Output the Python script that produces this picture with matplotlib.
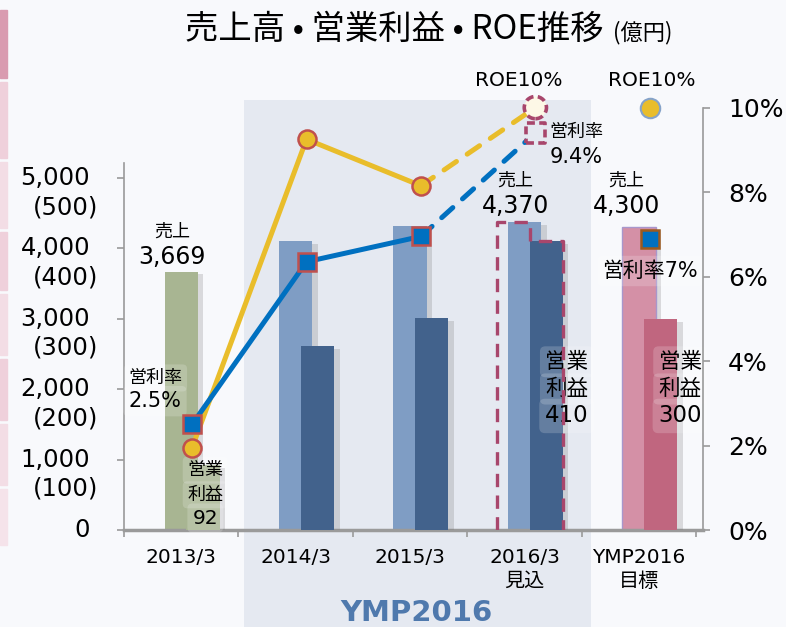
import matplotlib
matplotlib.use('Agg')
import matplotlib.pyplot as plt
import matplotlib.patheffects as pe
from matplotlib.patches import Rectangle
from matplotlib.transforms import blended_transform_factory
import numpy as np

plt.rcParams['font.family'] = ['DejaVu Sans', 'Noto Sans CJK JP']

# data (億円, %)
categories = ['2013/3', '2014/3', '2015/3', '2016/3\n見込', 'YMP2016\n目標']
sales = [3669, 4105, 4320, 4370, 4300]
profit = [92, 261, 301, 410, 300]
margin = [2.5, 6.35, 6.95, 9.4, 6.9]
roe = [1.95, 9.25, 8.15, 10.0, 10.0]
left_ticks = [0, 1000, 2000, 3000, 4000, 5000]
right_ticks = [0, 2, 4, 6, 8, 10]

sales_colors = ['#a8b592', '#7f9dc4', '#7f9dc4', '#7f9dc4', '#d490a6']
profit_colors = ['#a8b592', '#42628c', '#42628c', '#42628c', '#c0667f']
yellow = '#e9bd2b'
blue = '#0070c0'
maroon = '#a8466c'
grey = '#9a9a9a'

fig = plt.figure(figsize=(7.86, 6.27), dpi=100, facecolor='#f8f9fc')
ax = fig.add_axes([124/786, 1-530/627, 579/786, 422.4/627])
ax.set_facecolor('none')
ax2 = ax.twinx()

x = np.arange(len(categories))
w = 0.29      # bar width
pofs = 0.19   # profit bar offset
lofs = 0.095  # line point offset

# pink strip on the left edge
strip = [(10, 78, '#d99bb0'), (82, 158, '#efd0db'), (162, 228, '#f3dde5'),
         (232, 290, '#efd0db'), (294, 355, '#f3dde5'), (359, 420, '#efd0db'),
         (424, 485, '#f3dde5'), (489, 545, '#f5e3ea')]
for y0, y1, c in strip:
    fig.add_artist(Rectangle((0, 1-y1/627), 7/786, (y1-y0)/627,
                             transform=fig.transFigure, color=c, zorder=-5))

# YMP2016 band
band = Rectangle((0.55, 0), 3.03, 1-100/627,
                 transform=blended_transform_factory(ax.transData, fig.transFigure),
                 facecolor='#e5e9f1', edgecolor='none', zorder=0, clip_on=False)
ax.add_artist(band)
fig.text(416/786, 1-613/627, 'YMP2016', ha='center', va='center',
         fontsize=21, fontweight='bold', color='#4f79ad')

# bars
shadow = [pe.SimplePatchShadow(offset=(4, -2), shadow_rgbFace='#7d7d7d', alpha=0.25), pe.Normal()]
b1 = ax.bar(x, sales, w, color=sales_colors, zorder=2)
b2 = ax.bar(x + pofs, np.array(profit) * 10, w, color=profit_colors, zorder=3)
for r in list(b1) + list(b2):
    r.set_path_effects(shadow)
b1[4].set_edgecolor('#a897cc')
b1[4].set_linewidth(1)

# dashed outline for the forecast year
xc = x[3]
ol = [xc - w/2 - lofs, xc + pofs - w/2, xc + pofs + w/2]
ax.plot([ol[0], ol[0], ol[1], ol[1], ol[2], ol[2]],
        [0, sales[3], sales[3], profit[3]*10, profit[3]*10, 0],
        color=maroon, lw=2.4, ls=(0, (4, 2.5)), zorder=4)

# lines
xl = x + lofs
ax2.plot(xl[:3], roe[:3], color=yellow, lw=3.6, solid_capstyle='round', zorder=3)
ax2.plot(xl[2:4], roe[2:4], color=yellow, lw=3.6, ls=(0, (3, 2.6)), dash_capstyle='round', zorder=3)
ax2.plot(xl[:3], margin[:3], color=blue, lw=3.6, solid_capstyle='round', zorder=4)
ax2.plot(xl[2:4], margin[2:4], color=blue, lw=3.6, ls=(0, (3, 2.6)), dash_capstyle='round', zorder=4)
ax2.plot(xl[:3], roe[:3], 'o', ms=13, mfc=yellow, mec='#c0504d', mew=1.8, zorder=5)
ax2.plot(xl[:3], margin[:3], 's', ms=13.5, mfc=blue, mec='#c0504d', mew=1.8, zorder=6)
ax2.scatter([xl[3]], [roe[3]], s=16**2, marker='o', facecolor='#fdf8e6', edgecolor=maroon,
            linewidths=2.6, linestyle=(0, (2.2, 1.2)), zorder=6, clip_on=False)
ax2.scatter([xl[3]], [margin[3]], s=14**2, marker='s', facecolor='#e5e9f1', edgecolor=maroon,
            linewidths=2.6, linestyle=(0, (2.2, 1.2)), zorder=6)
ax2.plot([xl[4]], [roe[4]], 'o', ms=14, mfc=yellow, mec='#86a3c9', mew=1.5, zorder=6, clip_on=False)
ax2.plot([xl[4]], [margin[4]], 's', ms=13.5, mfc=blue, mec='#9c5a1e', mew=1.8, zorder=6)

# axes
ax.set_xlim(-0.5, 4.56)
ax.set_ylim(0, 6000)
ax2.set_ylim(0, 10)
for s in ['top', 'right']:
    ax.spines[s].set_visible(False)
for s in ['top', 'left', 'bottom']:
    ax2.spines[s].set_visible(False)
ax.spines['bottom'].set_color(grey)
ax.spines['bottom'].set_linewidth(2.5)
ax.spines['left'].set_color(grey)
ax.spines['left'].set_linewidth(1.2)
ax.spines['left'].set_bounds(0, 5220)
ax2.spines['right'].set_color(grey)
ax2.spines['right'].set_linewidth(1.2)
ax2.spines['right'].set_bounds(0, 10)

ax.set_xticks(np.arange(-0.5, 5, 1))
ax.set_xticklabels([])
ax.set_xticks(x, minor=True)
ax.set_xticklabels(categories, minor=True, fontsize=14.5, linespacing=1.3)
ax.tick_params(axis='x', which='major', length=5, width=1.2, color=grey)
ax.tick_params(axis='x', which='minor', length=0, pad=13)
ax.set_yticks(left_ticks)
ax.set_yticklabels([])
ax.tick_params(axis='y', length=5, width=1.2, color=grey)

ax2.set_yticks(right_ticks)
ax2.set_yticklabels([f'{t}%' for t in right_ticks], fontsize=18)
ax2.tick_params(axis='y', length=5, width=1.2, color=grey, pad=13)

ytr = ax.get_yaxis_transform()
for t in left_ticks:
    if t == 0:
        ax.annotate('0', (0, t), xycoords=ytr, xytext=(-34, 0), textcoords='offset pixels',
                    ha='right', va='center', fontsize=17.5)
        continue
    ax.annotate(f'{t:,}', (0, t), xycoords=ytr, xytext=(-34, 0), textcoords='offset pixels',
                ha='right', va='center', fontsize=17.5)
    ax.annotate(f'({t // 10})', (0, t), xycoords=ytr, xytext=(-26, -29), textcoords='offset pixels',
                ha='right', va='center', fontsize=17.5)

# labels
glow = dict(boxstyle='round,pad=0.25', fc='white', ec='none', alpha=0.18)

ax.text(-0.08, sales[0] + 564, '売上', ha='center', va='center', fontsize=13)
ax.text(-0.08, sales[0] + 209, f'{sales[0]:,}', ha='center', va='center', fontsize=17)
for i, dx in [(3, -0.08), (4, -0.11)]:
    ax.text(x[i] + dx, 4957, '売上', ha='center', va='center', fontsize=13)
    ax.text(x[i] + dx, 4602, f'{sales[i]:,}', ha='center', va='center', fontsize=17)

ax.text(-0.46, 2160, '営利率', ha='left', va='center', fontsize=13, bbox=glow)
ax.text(-0.46, 1830, f'{margin[0]}%', ha='left', va='center', fontsize=15, bbox=glow)
ax.text(3.22, 5653, '営利率', ha='left', va='center', fontsize=13)
ax.text(3.22, 5298, f'{margin[3]}%', ha='left', va='center', fontsize=15)
ax.text(4.10, 3679, '営利率7%', ha='center', va='center', fontsize=15, bbox=glow)

ax.text(0.21, 850, '営業', ha='center', va='center', fontsize=13, bbox=glow)
ax.text(0.21, 500, '利益', ha='center', va='center', fontsize=13, bbox=glow)
ax.text(0.21, 170, f'{profit[0]}', ha='center', va='center', fontsize=14.5, bbox=glow)
for i, xp in [(3, 3.37), (4, 4.36)]:
    ax.text(xp, 2390, '営業', ha='center', va='center', fontsize=15.5, bbox=glow)
    ax.text(xp, 2003, '利益', ha='center', va='center', fontsize=15.5, bbox=glow)
    ax.text(xp, 1620, f'{profit[i]}', ha='center', va='center', fontsize=16.5, bbox=glow)

ax.text(2.95, 6392, 'ROE10%', ha='center', va='center', fontsize=14.5)
ax.text(4.11, 6392, 'ROE10%', ha='center', va='center', fontsize=14.5)

# title
fig.text(604/786, 1-29/627, '売上高 • 営業利益 • ROE推移', ha='right', va='center',
         fontsize=24, family=['Noto Sans CJK JP'])
fig.text(613/786, 1-33/627, '(億円)', ha='left', va='center', fontsize=16,
         family=['Noto Sans CJK JP'])

fig.savefig('out.png', dpi=100, facecolor=fig.get_facecolor())
